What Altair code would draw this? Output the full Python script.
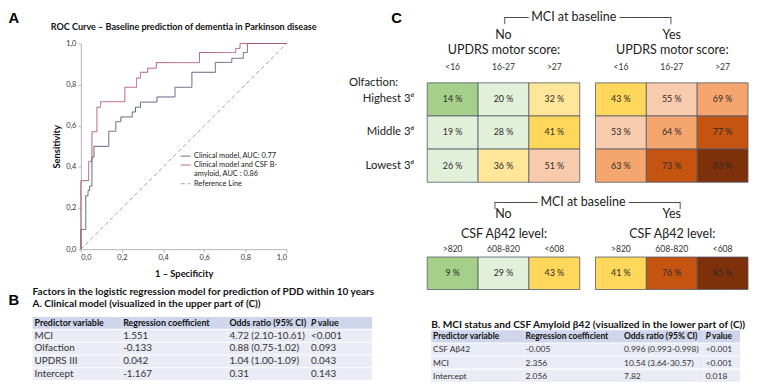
import altair as alt
import pandas as pd

FONT = "Lato"
TXT = "#222222"

# ---------------- Panel A: ROC curves ----------------
series_names = ["Clinical model, AUC: 0.77",
                "Clinical model and CSF B-|amyloid, AUC : 0.86",
                "Reference Line"]
blue_fpr = [0, 0, 0.024, 0.035, 0.043, 0.054, 0.064, 0.136, 0.17, 0.195, 0.25,
            0.266, 0.29, 0.37, 0.458, 0.54, 0.654, 0.734, 0.79, 0.81, 1.0]
blue_tpr = [0, 0.096, 0.26, 0.285, 0.307, 0.448, 0.5, 0.573, 0.62, 0.643, 0.667,
            0.69, 0.715, 0.74, 0.787, 0.86, 0.908, 0.928, 0.956, 1.0, 1.0]
red_fpr = [0, 0, 0.038, 0.054, 0.078, 0.096, 0.214, 0.271, 0.29, 0.325, 0.367,
           0.577, 0.753, 0.774, 1.0]
red_tpr = [0, 0.333, 0.427, 0.571, 0.69, 0.717, 0.787, 0.832, 0.86, 0.88, 0.907,
           0.956, 0.976, 1.0, 1.0]
ref_fpr = [0, 1]
ref_tpr = [0, 1]
roc_ticks = [0, 0.2, 0.4, 0.6, 0.8, 1.0]

# ---------------- Panel C: heatmaps ----------------
olf_rows = ["Highest 3ᵈ", "Middle 3ᵈ", "Lowest 3ᵈ"]
updrs_cols = ["<16", "16-27", ">27"]
top_no = [[14, 20, 32], [19, 28, 41], [26, 36, 51]]
top_yes = [[43, 55, 69], [53, 64, 77], [63, 73, 83]]
csf_cols = [">820", "608-820", "<608"]
bot_no = [9, 29, 43]
bot_yes = [41, 76, 85]
heat_breaks = [15, 30, 40, 50, 60, 70, 80]
heat_colors = ["#a6d08a", "#e2efd9", "#ffe699", "#ffd75a", "#f8cbad",
               "#f4a66e", "#c4540f", "#7e300b"]

# ---------------- Tables ----------------
tB_title = ["Factors in the logistic regression model for prediction of PDD within 10 years",
            "A. Clinical model (visualized in the upper part of (C))"]
tB_pred = ["Predictor variable", "MCI", "Olfaction", "UPDRS III", "Intercept"]
tB_coef = ["Regression coefficient", "1.551", "-0.133", "0.042", "-1.167"]
tB_or = ["Odds ratio (95% CI)", "4.72 (2.10-10.61)", "0.88 (0.75-1.02)",
         "1.04 (1.00-1.09)", "0.31"]
tB_p = ["P value", "<0.001", "0.093", "0.043", "0.143"]

tC_title = "B. MCI status and CSF Amyloid β42 (visualized in the lower part of (C))"
tC_pred = ["Predictor variable", "CSF Aβ42", "MCI", "Intercept"]
tC_coef = ["Regression coefficient", "-0.005", "2.356", "2.056"]
tC_or = ["Odds ratio (95% CI)", "0.996 (0.993-0.998)", "10.54 (3.64-30.57)", "7.82"]
tC_p = ["P value", "<0.001", "<0.001", "0.018"]

IND = dict(color="independent", strokeDash="independent")
NOVIEW = alt.ViewBackground(strokeOpacity=0, strokeWidth=0, fillOpacity=0)


def panel_title(label, dx=0, offset=0):
    return alt.TitleParams(label, anchor="start", font="Liberation Sans", fontSize=15,
                           fontWeight="bold", color="#000", dx=dx, offset=offset)


def spacer(w, h, label=None, dx=0, offset=0):
    c = alt.Chart(pd.DataFrame({"v": [0]})).mark_point(opacity=0, size=1).encode(
        x=alt.value(0), y=alt.value(0))
    props = dict(width=w, height=h, view=NOVIEW)
    if label:
        props["title"] = panel_title(label, dx=dx, offset=offset)
    return c.properties(**props)


# ROC chart
rows = []
for name, xs, ys in [(series_names[0], blue_fpr, blue_tpr),
                     (series_names[1], red_fpr, red_tpr)]:
    for i, (a, b) in enumerate(zip(xs, ys)):
        rows.append({"series": name, "fpr": a, "tpr": b, "idx": i})
roc_df = pd.DataFrame(rows)
ref_df = pd.DataFrame({"series": series_names[2], "fpr": ref_fpr, "tpr": ref_tpr, "idx": [0, 1]})

lab_expr = "replace(format(datum.value, '.1f'), '.', ',')"
ax_common = dict(values=roc_ticks, labelExpr=lab_expr, labelFont=FONT, labelFontSize=7.5,
                 labelColor="#333", domainColor="#b5b5b5", tickColor="#b5b5b5", tickSize=3,
                 grid=False, titleFont=FONT, titleFontSize=9.5, titleFontWeight="bold",
                 titleColor="#111")
xenc = alt.X("fpr:Q", scale=alt.Scale(domain=[0, 1], nice=False),
             axis=alt.Axis(title="1 – Specificity", labelPadding=2, titlePadding=7, **ax_common))
yenc = alt.Y("tpr:Q", scale=alt.Scale(domain=[0, 1], nice=False),
             axis=alt.Axis(title="Sensitivity", labelPadding=2, titlePadding=4, **ax_common))
legend = alt.Legend(title=None, orient="none", legendX=101, legendY=109,
                    symbolType="stroke", symbolSize=100, symbolStrokeWidth=1,
                    labelFont=FONT, labelFontSize=7.5, labelColor="#222",
                    labelExpr="split(datum.label, '|')", labelLimit=200,
                    rowPadding=0, labelOffset=3)
cenc = alt.Color("series:N", scale=alt.Scale(domain=series_names,
                                             range=["#525d7a", "#b5546f", "#a3a896"]),
                 legend=legend)
denc = alt.StrokeDash("series:N", scale=alt.Scale(domain=series_names,
                                                  range=[[1, 0], [1, 0], [4, 3]]),
                      legend=legend)
roc_lines = alt.Chart(roc_df).mark_line(strokeWidth=1, interpolate="step-after").encode(
    x=xenc, y=yenc, color=cenc, strokeDash=denc, order="idx:Q")
ref_line = alt.Chart(ref_df).mark_line(strokeWidth=1).encode(
    x=xenc, y=yenc, color=cenc, strokeDash=denc, order="idx:Q")
roc = alt.layer(ref_line, roc_lines).properties(
    width=209, height=209, view=NOVIEW,
    title=alt.TitleParams("ROC Curve – Baseline prediction of dementia in Parkinson disease",
                          font=FONT, fontSize=9.2, fontWeight="bold", color="#111",
                          anchor="middle", frame="group", offset=8))


# Heatmaps
def heat_block(rowsel, values, cols_domain, title, xtitle, show_y,
               height, lab_pad, ttl_pad, ttl_off):
    recs = []
    for ri, r in enumerate(rowsel):
        for ci, c in enumerate(cols_domain):
            recs.append({"row": r, "col": c, "value": values[ri][ci]})
    df = pd.DataFrame(recs)
    xax = alt.Axis(orient="top", labelAngle=0, domain=False, ticks=False,
                   labelFont=FONT, labelFontSize=8.7, labelColor="#333", labelPadding=lab_pad,
                   title=xtitle, titleFont=FONT, titleFontSize=12.7, titleFontWeight="normal",
                   titleColor=TXT, titlePadding=ttl_pad)
    x = alt.X("col:N", sort=cols_domain, axis=xax,
              scale=alt.Scale(paddingInner=0, paddingOuter=0))
    enc = dict(x=x)
    if len(rowsel) > 1:
        if show_y:
            yax = alt.Axis(domain=False, ticks=False, labelFont=FONT, labelFontSize=11.5,
                           labelColor=TXT, labelPadding=14, title="Olfaction:",
                           titleAngle=0, titleX=-80, titleY=3, titleAlign="left",
                           titleBaseline="alphabetic", titleFont=FONT, titleFontSize=11.5,
                           titleFontWeight="normal", titleColor=TXT)
        else:
            yax = None
        enc["y"] = alt.Y("row:N", sort=rowsel, axis=yax,
                         scale=alt.Scale(paddingInner=0, paddingOuter=0))
    color = alt.Color("value:Q", scale=alt.Scale(type="threshold", domain=heat_breaks,
                                                 range=heat_colors), legend=None)
    base = alt.Chart(df).transform_calculate(lbl="datum.value + ' %'")
    rect = base.mark_rect(stroke="#4f5b6b", strokeWidth=0.8).encode(color=color, **enc)
    text = base.mark_text(font=FONT, fontSize=9, color="#2a2a2a").encode(text="lbl:N", **enc)
    return alt.layer(rect, text).properties(
        width=155, height=height, view=NOVIEW,
        title=alt.TitleParams(title, font=FONT, fontSize=12.7, fontWeight="normal",
                              color=TXT, anchor="middle", frame="group", offset=ttl_off))


top_l = heat_block(olf_rows, top_no, updrs_cols, "No", "UPDRS motor score:",
                   True, 101, 12, 6, 2)
top_r = heat_block(olf_rows, top_yes, updrs_cols, "Yes", "UPDRS motor score:",
                   False, 101, 12, 6, 2)
bot_l = heat_block(["r"], [bot_no], csf_cols, "No", "CSF Aβ42 level:",
                   False, 33, 4, 4, 7)
bot_r = heat_block(["r"], [bot_yes], csf_cols, "Yes", "CSF Aβ42 level:",
                   False, 33, 4, 4, 7)

mci_title_top = alt.TitleParams("┌── MCI at baseline ─────┐", font=FONT, fontSize=12.7,
                                fontWeight="normal", color=TXT, anchor="middle",
                                frame="bounds", offset=5, dx=40)
mci_title_bot = alt.TitleParams("┌──── MCI at baseline ─────┐", font=FONT, fontSize=12.7,
                                fontWeight="normal", color=TXT, anchor="middle",
                                frame="bounds", offset=-1)
heat_top_row = alt.hconcat(top_l, top_r, spacing=16, bounds="flush", title=mci_title_top)
heat_bot_row = alt.hconcat(bot_l, bot_r, spacing=16, bounds="flush", title=mci_title_bot)


# Tables
def table_cols(cols, widths, rowh, tfont, hfont, title=None):
    n = len(cols[0])
    order = [str(i) for i in range(n)]
    charts = []
    for k, (col, w) in enumerate(zip(cols, widths)):
        df = pd.DataFrame({"r": order, "t": col,
                           "kind": ["head"] + ["body"] * (n - 1)})
        y = alt.Y("r:N", sort=order, axis=None,
                  scale=alt.Scale(paddingInner=0.08, paddingOuter=0.04))
        headdf = alt.Chart(df).transform_filter("datum.kind == 'head'")
        bodydf = alt.Chart(df).transform_filter("datum.kind == 'body'")
        layers = [headdf.mark_rect(color="#cfd5ea").encode(y=y),
                  bodydf.mark_rect(color="#e9ebf5").encode(y=y)]
        if col[0].startswith("P "):
            # italic "P" followed by the rest of the header
            layers.append(headdf.transform_calculate(p="slice(datum.t, 0, 1)").mark_text(
                align="left", dx=2, font=FONT, fontSize=hfont, fontWeight="bold",
                fontStyle="italic", color="#111").encode(x=alt.value(0), y=y, text="p:N"))
            layers.append(headdf.transform_calculate(p="slice(datum.t, 2)").mark_text(
                align="left", dx=2 + hfont * 0.75, font=FONT, fontSize=hfont,
                fontWeight="bold", color="#111").encode(x=alt.value(0), y=y, text="p:N"))
        else:
            layers.append(headdf.mark_text(align="left", dx=2, font=FONT, fontSize=hfont,
                                           fontWeight="bold", color="#111"
                                           ).encode(x=alt.value(0), y=y, text="t:N"))
        layers.append(bodydf.mark_text(align="left", dx=2, font=FONT, fontSize=tfont,
                                       color="#333").encode(x=alt.value(0), y=y, text="t:N"))
        props = dict(width=w, height=rowh * n, view=NOVIEW)
        if k == 0 and title is not None:
            props["title"] = title
        charts.append(alt.layer(*layers).properties(**props))
    return charts


tB_charts = table_cols([tB_pred, tB_coef, tB_or, tB_p], [90, 108, 83, 64], 13, 10, 9,
                       title=alt.TitleParams(tB_title, anchor="start", font=FONT,
                                             fontSize=10.2, fontWeight="bold", color="#111",
                                             offset=8, lineHeight=12))
tC_charts = table_cols([tC_pred, tC_coef, tC_or, tC_p], [94, 100, 83, 37], 13.3, 8.6, 8.6,
                       title=alt.TitleParams(tC_title, anchor="start", font=FONT,
                                             fontSize=10.3, fontWeight="bold", color="#111",
                                             offset=0))

# ---------------- layout (flush bounds: origins placed by widths + spacing) ----------------
roc_row = alt.hconcat(spacer(73, 209), roc, spacing=0, bounds="flush").resolve_scale(**IND)
tB_row = alt.hconcat(spacer(24, 65, "B", offset=8), *tB_charts, spacing=0, bounds="flush")
L2 = alt.vconcat(roc_row, tB_row, spacing=277.5, bounds="flush").resolve_scale(**IND)
left_col = alt.vconcat(spacer(1, 1, "A", offset=16), L2, spacing=-1,
                       bounds="flush").resolve_scale(**IND)

tC_row = alt.hconcat(spacer(4, 53), *tC_charts, spacing=0, bounds="flush")
R3 = alt.vconcat(heat_bot_row, tC_row, spacing=74, bounds="flush")
R2 = alt.vconcat(heat_top_row, R3, spacing=177, bounds="flush")
right_col = alt.vconcat(spacer(1, 1, "C", dx=-36, offset=16), R2, spacing=40, bounds="flush")

chart = alt.hconcat(left_col, right_col, spacing=425, bounds="flush").resolve_scale(
    **IND).properties(padding=0).configure(font=FONT).configure_view(strokeWidth=0)

chart.save("out.html", embed_options={"renderer": "svg", "actions": False})
